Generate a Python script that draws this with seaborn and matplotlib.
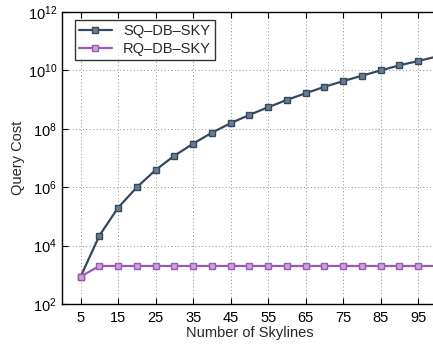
import numpy as np
import pandas as pd
import seaborn as sns
import matplotlib
matplotlib.use("Agg")
import matplotlib.pyplot as plt
from matplotlib.ticker import FixedLocator, FuncFormatter

# data
skylines = [5, 10, 15, 20, 25, 30, 35, 40, 45, 50, 55, 60, 65, 70, 75, 80, 85, 90, 95, 100]
sq_cost = [870, 2.2e4, 2.0e5, 1.0e6, 3.9e6, 1.2e7, 3.1e7, 7.4e7, 1.56e8, 3.0e8,
           5.5e8, 9.8e8, 1.65e9, 2.75e9, 4.3e9, 6.6e9, 1.0e10, 1.5e10, 2.1e10, 3.0e10]
rq_cost = [870] + [2000] * 19
series_names = ["SQ\u2013DB\u2013SKY", "RQ\u2013DB\u2013SKY"]
x_ticks = [5, 15, 25, 35, 45, 55, 65, 75, 85, 95]
y_exps = [2, 4, 6, 8, 10, 12]

df = pd.DataFrame({
    "Number of Skylines": skylines * 2,
    "Query Cost": sq_cost + rq_cost,
    "Method": [series_names[0]] * len(skylines) + [series_names[1]] * len(skylines),
})

sns.set_style("ticks")
plt.rcParams["font.family"] = ["Liberation Sans", "DejaVu Sans"]
plt.rcParams["mathtext.fontset"] = "custom"
plt.rcParams["mathtext.rm"] = "Liberation Sans"
plt.rcParams["mathtext.it"] = "Liberation Sans:italic"

palette = {series_names[0]: "#34495e", series_names[1]: "#9b59b6"}
faces = {series_names[0]: "#6a7b8c", series_names[1]: "#c9a3d9"}

fig = plt.figure(figsize=(4.33, 3.45), dpi=100)
ax = fig.add_axes([0.143, 0.119, 0.866, 0.846])

sns.lineplot(data=df, x="Number of Skylines", y="Query Cost", hue="Method",
             palette=palette, marker="s", markersize=4, linewidth=1.6,
             markeredgewidth=1.0, ax=ax, legend=False)
for line, name in zip(ax.get_lines(), series_names):
    line.set_markerfacecolor(faces[name])
    line.set_markeredgecolor(palette[name])
    line.set_label(name)

ax.set_yscale("log")
ax.set_xlim(0, 100)
ax.set_ylim(1e2, 1e12)
ax.xaxis.set_major_locator(FixedLocator(x_ticks))
ax.yaxis.set_major_locator(FixedLocator([10.0 ** e for e in y_exps]))
ax.yaxis.set_minor_locator(FixedLocator([]))
ax.yaxis.set_major_formatter(FuncFormatter(lambda v, p: r"$10^{%d}$" % round(np.log10(v))))

ax.grid(True, which="major", linestyle=(0, (1, 2.5)), color="#8c8c8c", linewidth=0.7)
ax.tick_params(direction="in", top=True, right=False, length=4, width=0.8,
               labelsize=10.5, colors="black")
ax.tick_params(axis="x", pad=5)
for s in ax.spines.values():
    s.set_linewidth(1.0)
    s.set_color("black")
ax.spines["right"].set_visible(False)

ax.set_xlabel("Number of Skylines", fontsize=10.5, labelpad=0.5)
ax.set_ylabel("Query Cost", fontsize=10.5, labelpad=2)

leg = ax.legend(handles=ax.get_lines()[:2], loc="upper left", bbox_to_anchor=(0.035, 0.973),
                borderaxespad=0, fontsize=10.5, frameon=True, fancybox=False,
                edgecolor="black", handlelength=2.2, borderpad=0.3, labelspacing=0.25,
                handletextpad=0.8)
leg.get_frame().set_linewidth(1.0)

fig.savefig("out.png", dpi=100)
